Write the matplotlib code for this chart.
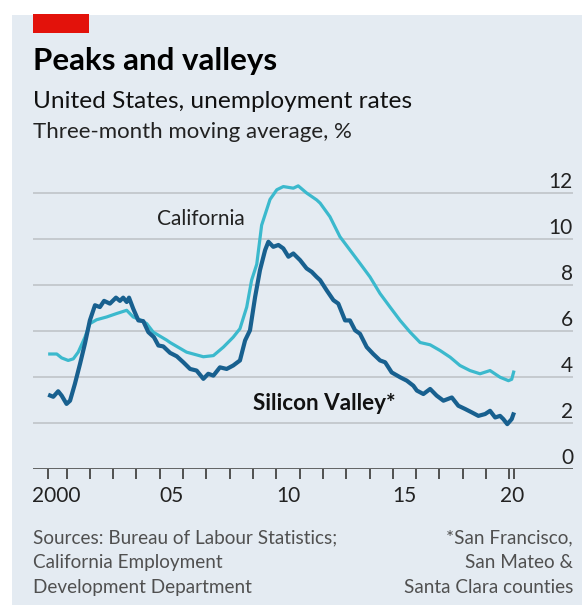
import matplotlib
matplotlib.use('Agg')
import matplotlib.pyplot as plt
from matplotlib.patches import Rectangle
from matplotlib.transforms import blended_transform_factory

plt.rcParams['font.family'] = ['Lato', 'DejaVu Sans']

# Silicon Valley (three-month moving average, %)
sv_years = [2000.21, 2000.43, 2000.64, 2000.79, 2001.00, 2001.15, 2001.36, 2001.58, 2001.79, 2002.00,
            2002.22, 2002.43, 2002.61, 2002.86, 2003.12, 2003.29, 2003.43, 2003.58, 2003.68, 2003.86,
            2004.08, 2004.29, 2004.51, 2004.75, 2004.94, 2005.15, 2005.44, 2005.73, 2006.01, 2006.30,
            2006.58, 2006.87, 2007.08, 2007.30, 2007.58, 2007.87, 2008.15, 2008.44, 2008.66, 2008.87,
            2009.09, 2009.30, 2009.52, 2009.66, 2009.87, 2010.09, 2010.30, 2010.52, 2010.73, 2011.02,
            2011.30, 2011.52, 2011.73, 2011.88, 2012.16, 2012.45, 2012.66, 2012.95, 2013.16, 2013.38,
            2013.59, 2013.88, 2014.16, 2014.45, 2014.67, 2014.95, 2015.31, 2015.60, 2015.88, 2016.03,
            2016.31, 2016.60, 2016.88, 2017.17, 2017.53, 2017.81, 2018.10, 2018.39, 2018.67, 2018.96,
            2019.17, 2019.39, 2019.60, 2019.74, 2019.91, 2020.10, 2020.20]
sv_rate = [3.23, 3.14, 3.38, 3.19, 2.83, 2.97, 3.71, 4.58, 5.46, 6.46,
           7.12, 7.04, 7.31, 7.19, 7.45, 7.31, 7.45, 7.26, 7.45, 6.97,
           6.46, 6.43, 5.95, 5.73, 5.37, 5.33, 5.05, 4.90, 4.64, 4.35,
           4.28, 3.92, 4.14, 4.06, 4.42, 4.35, 4.50, 4.72, 5.59, 6.03,
           7.48, 8.65, 9.52, 9.88, 9.66, 9.74, 9.59, 9.23, 9.37, 9.08,
           8.72, 8.57, 8.35, 8.21, 7.77, 7.34, 7.19, 6.46, 6.46, 6.03,
           5.88, 5.30, 5.00, 4.72, 4.64, 4.20, 3.99, 3.84, 3.62, 3.41,
           3.26, 3.48, 3.19, 2.97, 3.11, 2.75, 2.61, 2.46, 2.31, 2.39,
           2.53, 2.24, 2.31, 2.17, 1.95, 2.17, 2.46]

# California
ca_years = [2000.21, 2000.58, 2000.79, 2001.07, 2001.29, 2001.50, 2001.79, 2002.00, 2002.29, 2002.72,
            2003.15, 2003.58, 2003.86, 2004.15, 2004.44, 2004.72, 2005.30, 2005.44, 2006.15, 2006.87,
            2007.30, 2007.73, 2008.15, 2008.44, 2008.73, 2008.94, 2009.16, 2009.37, 2009.73, 2010.02,
            2010.30, 2010.73, 2010.94, 2011.30, 2011.73, 2011.88, 2012.30, 2012.73, 2013.16, 2013.59,
            2014.02, 2014.45, 2014.88, 2015.31, 2015.74, 2016.17, 2016.60, 2017.03, 2017.46, 2017.88,
            2018.31, 2018.74, 2019.17, 2019.60, 2019.96, 2020.10, 2020.20]
ca_rate = [5.00, 5.00, 4.83, 4.72, 4.79, 5.08, 5.73, 6.32, 6.49, 6.61,
           6.76, 6.90, 6.61, 6.49, 6.32, 5.95, 5.60, 5.50, 5.08, 4.88,
           4.93, 5.30, 5.73, 6.10, 7.04, 8.21, 8.90, 10.60, 11.72, 12.14,
           12.28, 12.21, 12.31, 12.00, 11.70, 11.56, 10.97, 10.10, 9.52, 8.94,
           8.35, 7.63, 7.04, 6.46, 5.95, 5.50, 5.40, 5.15, 4.86, 4.50,
           4.28, 4.14, 4.28, 3.99, 3.84, 3.90, 4.28]

y_ticks = [0, 2, 4, 6, 8, 10, 12]
x_label_pos = [2000.55, 2005.5, 2010.5, 2015.5, 2020.1]
x_labels = ['2000', '05', '10', '15', '20']

bg = '#e4ebf2'
dark = '#18608f'
light = '#3bb9cd'

fig = plt.figure(figsize=(5.82, 6.05), dpi=100)
fig.patch.set_facecolor('white')
fig.patches.append(Rectangle((12 / 582, 0), 1, 1 - 15 / 605, transform=fig.transFigure,
                             facecolor=bg, edgecolor='none', zorder=-10))
fig.patches.append(Rectangle((33 / 582, 1 - 33 / 605), 56 / 582, 19 / 605, transform=fig.transFigure,
                             facecolor='#e3120b', edgecolor='none', zorder=-5))

fig.text(33 / 582, 1 - 70 / 605, 'Peaks and valleys', fontsize=22.5, fontweight='bold', color='black',
         va='baseline', ha='left')
fig.text(33 / 582, 1 - 108 / 605, 'United States, unemployment rates', fontsize=17.6, color='#111111',
         va='baseline', ha='left')
fig.text(33 / 582, 1 - 138 / 605, 'Three-month moving average, %', fontsize=16, color='#222222',
         va='baseline', ha='left')

ax = fig.add_axes([33 / 582, 136 / 605, 540 / 582, 299 / 605])
ax.set_facecolor('none')
ax.set_xlim(1999.56, 2022.73)
ax.set_ylim(0, 13)
for s in ax.spines.values():
    s.set_visible(False)

for v in y_ticks[1:]:
    ax.axhline(v, color='#bfc4c9', lw=1.2, zorder=1)
ax.axhline(0, color='#3a3a3a', lw=1.8, zorder=4)

ax.plot(ca_years, ca_rate, color=light, lw=2.3, zorder=2, solid_capstyle='butt')
ax.plot(sv_years, sv_rate, color=dark, lw=3.0, zorder=3, solid_capstyle='butt')

trans = blended_transform_factory(ax.transAxes, ax.transData)
for v in y_ticks:
    ax.text(1.0, v + 0.22, str(v), transform=trans, ha='right', va='baseline', fontsize=15, color='#222222')
ax.set_yticks([])

minor = [sv_years[0]] + list(range(2001, 2021)) + [sv_years[-1]]
ax.set_xticks(minor, minor=True)
ax.set_xticks(x_label_pos)
ax.set_xticklabels(x_labels, fontsize=15, color='#222222')
ax.tick_params(axis='x', which='major', length=0, pad=12)
ax.tick_params(axis='x', which='minor', length=7, width=1.3, color='#444444', direction='out')

ax.text(2004.87, 10.6, 'California', fontsize=15, color='#222222', va='baseline', ha='left')
ax.text(2009.01, 2.57, 'Silicon Valley*', fontsize=16.2, fontweight='bold', color='#111111',
        va='baseline', ha='left')

src = ['Sources: Bureau of Labour Statistics;', 'California Employment', 'Development Department']
note = ['*San Francisco,', 'San Mateo &', 'Santa Clara counties']
for i, (a, b) in enumerate(zip(src, note)):
    y = 1 - (543 + 25 * i) / 605
    fig.text(33 / 582, y, a, fontsize=13.6, color='#505050', va='baseline', ha='left')
    fig.text(573 / 582, y, b, fontsize=13.6, color='#505050', va='baseline', ha='right')

fig.savefig('out.png', dpi=100, facecolor=fig.get_facecolor())
